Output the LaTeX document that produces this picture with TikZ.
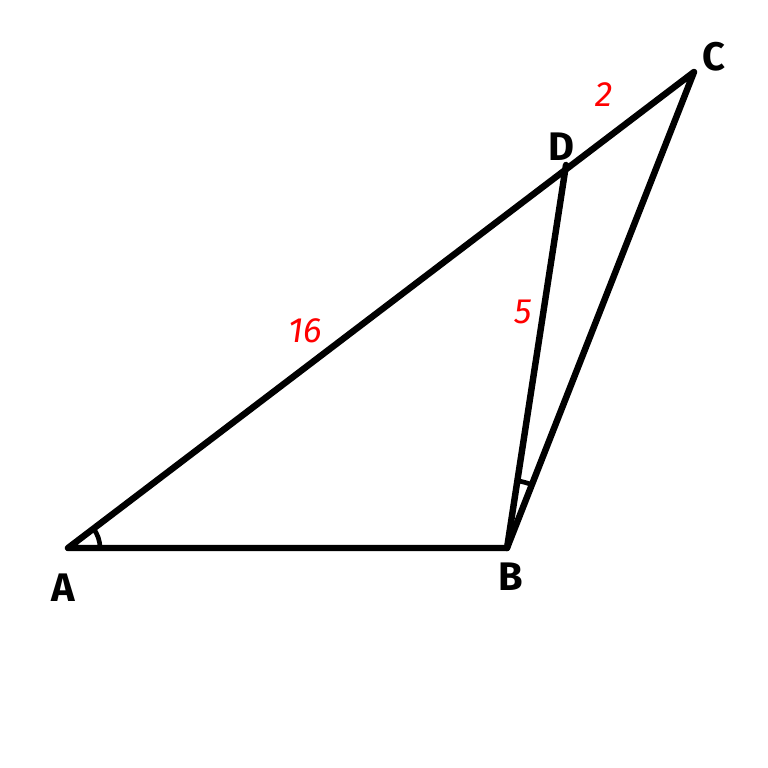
\documentclass[tikz,border=0pt]{standalone}
\usepackage{fontspec}
\setmainfont{Fira Sans}
\begin{document}
\begin{tikzpicture}[x=0.03cm,y=-0.03cm,
  seg/.style={line width=5.5pt,line cap=round,line join=round},
  ang/.style={line width=4pt},
  vlabel/.style={font=\fontsize{34}{34}\selectfont\bfseries,inner sep=0pt},
  num/.style={font=\fontsize{30}{30}\selectfont\itshape,text=red,inner sep=0pt}]
\useasboundingbox (0,0) rectangle (768,768);
\fill[white] (0,0) rectangle (768,768);
\coordinate (A) at (68,548);
\coordinate (B) at (507,548);
\coordinate (C) at (694,72);
\coordinate (D) at (566,165);
\draw[seg] (A) -- (B) -- (C) -- cycle;
\draw[seg] (B) -- (D);
% angle arcs
\draw[ang] (A) ++(0:0.96cm) arc[start angle=0,end angle=37.2,radius=0.96cm];
\draw[ang] (B) ++(68.6:2.04cm) arc[start angle=68.6,end angle=81.2,radius=2.04cm];
\node[vlabel] (la) at (63,588) {A};
\node[vlabel] (lb) at (511,577) {B};
\node[vlabel] (lc) at (714,57) {C};
\node[vlabel] (ld) at (561,147) {D};
\node[num] (n2) at (604,95) {2};
\node[num] (n5) at (523,312) {5};
\node[num] (n16) at (305,331) {16};
\end{tikzpicture}
\end{document}
